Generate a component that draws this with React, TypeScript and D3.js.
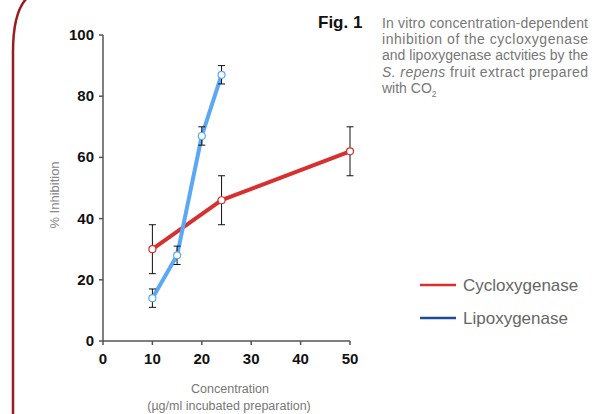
import React from 'react';
import * as d3 from 'd3';

const cycloX = [10, 24, 50];
const cycloY = [30, 46, 62];
const cycloErr = [8, 8, 8];

const lipoX = [10, 15, 20, 24];
const lipoY = [14, 28, 67, 87];
const lipoErr = [3, 3, 3, 3];

const xTicks = [0, 10, 20, 30, 40, 50];
const yTicks = [0, 20, 40, 60, 80, 100];

const captionLines = [
  'In vitro concentration-dependent',
  'inhibition of the cycloxygenase',
  'and lipoxygenase actvities by the',
];

const RED = '#d8302f';
const LIGHTBLUE = '#5aa8f6';
const DARKBLUE = '#1d4b9a';
const GREY = '#777';

function Series(props: { xs: number[]; ys: number[]; errs: number[]; color: string; x: any; y: any }) {
  const { xs, ys, errs, color, x, y } = props;
  const pts = xs.map((d, i) => [d, ys[i]] as [number, number]);
  const line = d3.line<[number, number]>().x((d) => x(d[0])).y((d) => y(d[1]));
  return (
    <g>
      <path d={line(pts) || ''} fill="none" stroke={color} strokeWidth={4} strokeLinejoin="round" />
      {pts.map((p, i) => {
        const cx = x(p[0]);
        const top = y(p[1] + errs[i]);
        const bot = y(p[1] - errs[i]);
        return (
          <g key={i} stroke="#111" strokeWidth={1}>
            <line x1={cx} x2={cx} y1={top} y2={bot} />
            <line x1={cx - 3.5} x2={cx + 3.5} y1={top} y2={top} />
            <line x1={cx - 3.5} x2={cx + 3.5} y1={bot} y2={bot} />
          </g>
        );
      })}
      {pts.map((p, i) => (
        <circle key={'c' + i} cx={x(p[0])} cy={y(p[1])} r={3.5} fill="#fff" stroke={color} strokeWidth={1.2} />
      ))}
    </g>
  );
}

export default function App() {
  const x = d3.scaleLinear().domain([0, 50]).range([103, 350]);
  const y = d3.scaleLinear().domain([0, 100]).range([341, 35]);
  const axisStyle = { stroke: '#555', strokeWidth: 1.5 };
  const font = '"Liberation Sans", Arial, sans-serif';

  return (
    <svg width={602} height={414} style={{ position: 'absolute', left: 0, top: 0 }} fontFamily={font}>
      <rect width={602} height={414} fill="#fff" />
      <path d="M13,416 L13,52 Q13,12 27,-2" fill="none" stroke="#9b1c20" strokeWidth={2.5} />

      {/* axes */}
      <line x1={x(0)} x2={x(0)} y1={y(100)} y2={y(0)} style={axisStyle} />
      <line x1={x(0)} x2={x(50)} y1={y(0)} y2={y(0)} style={axisStyle} />
      {yTicks.map((t) => (
        <g key={'y' + t}>
          <line x1={x(0) - 4} x2={x(0)} y1={y(t)} y2={y(t)} style={axisStyle} />
          <text x={x(0) - 9} y={y(t) + 5} textAnchor="end" fontSize={15} fontWeight="bold" fill="#111">{t}</text>
        </g>
      ))}
      {xTicks.map((t) => (
        <g key={'x' + t}>
          <line x1={x(t)} x2={x(t)} y1={y(0)} y2={y(0) + 4} style={axisStyle} />
          <text x={x(t)} y={y(0) + 23} textAnchor="middle" fontSize={15} fontWeight="bold" fill="#111">{t}</text>
        </g>
      ))}

      <text transform="translate(59,195) rotate(-90)" textAnchor="middle" fontSize={13} fill="#888">% Inhibition</text>
      <text x={230} y={393} textAnchor="middle" fontSize={12.5} fill={GREY}>Concentration</text>
      <text x={229} y={410} textAnchor="middle" fontSize={12.5} fill={GREY}>(µg/ml incubated preparation)</text>

      <Series xs={cycloX} ys={cycloY} errs={cycloErr} color={RED} x={x} y={y} />
      <Series xs={lipoX} ys={lipoY} errs={lipoErr} color={LIGHTBLUE} x={x} y={y} />

      {/* caption */}
      <text x={318} y={28} fontSize={17} fontWeight="bold" fill="#111">Fig. 1</text>
      {captionLines.map((l, i) => (
        <text key={i} x={382} y={28 + i * 16.2} fontSize={14} fill={GREY} textLength={206} lengthAdjust="spacing">{l}</text>
      ))}
      <text x={382} y={77} fontSize={14} fill={GREY} textLength={206} lengthAdjust="spacing">
        <tspan fontStyle="italic">S. repens</tspan> fruit extract prepared
      </text>
      <text x={382} y={93} fontSize={14} fill={GREY}>
        with CO<tspan fontSize={8.5} dy={4}>2</tspan>
      </text>

      {/* legend */}
      <line x1={420} x2={456} y1={285} y2={285} stroke={RED} strokeWidth={2.5} />
      <text x={463} y={291} fontSize={17} fill="#666">Cycloxygenase</text>
      <line x1={420} x2={456} y1={318} y2={318} stroke={DARKBLUE} strokeWidth={2.5} />
      <text x={463} y={324} fontSize={17} fill="#666">Lipoxygenase</text>
    </svg>
  );
}
